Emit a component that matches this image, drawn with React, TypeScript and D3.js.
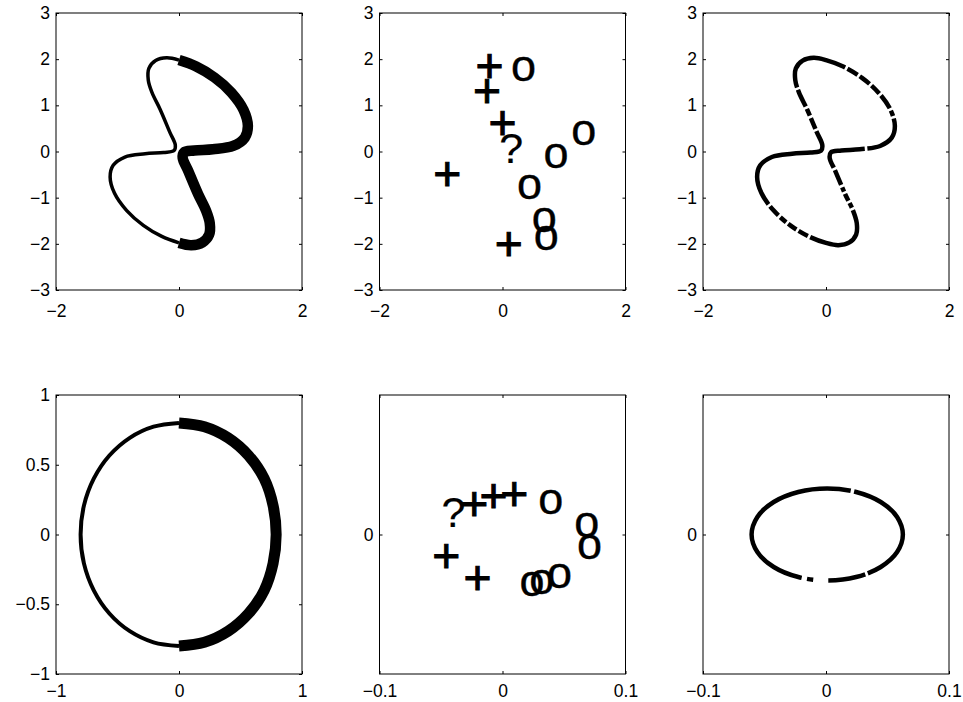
import * as d3 from 'd3';
import React, { useRef, useEffect } from 'react';

const W = 963;
const H = 702;
const FONT = '"Liberation Sans", Arial, Helvetica, sans-serif';

// top row: the loop, split in the thin half and the thick half
const thinX = [0.00, -0.20, -0.38, -0.49, -0.50, -0.44, -0.31, -0.15, -0.06, -0.08, -0.25, -0.55, -0.88, -1.07, -1.12, -1.05, -0.85, -0.58, -0.28, 0.00];
const thinY = [1.98, 2.03, 1.97, 1.80, 1.55, 1.28, 0.92, 0.42, 0.14, 0.02, -0.02, -0.05, -0.12, -0.30, -0.55, -0.90, -1.28, -1.60, -1.84, -1.98];
const thickX = [0.00, 0.20, 0.38, 0.49, 0.50, 0.44, 0.31, 0.15, 0.06, 0.08, 0.25, 0.55, 0.88, 1.07, 1.12, 1.05, 0.85, 0.58, 0.28, 0.00];
const thickY = [-1.98, -2.03, -1.97, -1.80, -1.55, -1.28, -0.92, -0.42, -0.14, -0.02, 0.02, 0.05, 0.12, 0.30, 0.55, 0.90, 1.28, 1.60, 1.84, 1.98];
// where the dotted loop (top right) has holes, as fraction of its length
const loopGaps = [0.092, 0.127, 0.144, 0.167, 0.384, 0.409, 0.426, 0.447, 0.469, 0.601, 0.614, 0.631, 0.643, 0.674, 0.763, 0.846, 0.860, 0.890, 0.913, 0.938, 0.962];

// top middle markers
const plusTopX = [-0.21, -0.25, 0.0, -0.9, 0.10];
const plusTopY = [1.87, 1.33, 0.63, -0.47, -1.98];
const circTopX = [0.34, 1.32, 0.87, 0.44, 0.68, 0.71];
const circTopY = [1.78, 0.41, -0.09, -0.77, -1.48, -1.88];
const queryTop = [0.14, 0.09];

// bottom left ring
const ringThinX = [0, -0.207, -0.4, -0.566, -0.693, -0.773, -0.8, -0.773, -0.693, -0.566, -0.4, -0.207, 0];
const ringThinY = [0.8, 0.773, 0.693, 0.566, 0.4, 0.207, 0, -0.207, -0.4, -0.566, -0.693, -0.773, -0.8];
const ringThickX = [0, 0.207, 0.4, 0.566, 0.693, 0.765, 0.79, 0.765, 0.693, 0.566, 0.4, 0.207, 0];
const ringThickY = [-0.8, -0.773, -0.693, -0.566, -0.4, -0.207, 0, 0.207, 0.4, 0.566, 0.693, 0.773, 0.8];

// bottom middle markers
const plusBotX = [-0.023, -0.0073, 0.0095, -0.0458, -0.0203];
const plusBotY = [0.0227, 0.0282, 0.0294, -0.0148, -0.0308];
const circBotX = [0.0393, 0.0686, 0.0707, 0.0463, 0.032, 0.0239];
const circBotY = [0.0234, 0.0067, -0.0089, -0.0299, -0.034, -0.0356];
const queryBot = [-0.0398, 0.0162];

// bottom right ellipse
const ovalX = [0.0625, 0.0578, 0.0445, 0.0245, 0.001, -0.0225, -0.0425, -0.0558, -0.0605, -0.0558, -0.0425, -0.0225, 0.001, 0.0245, 0.0445, 0.0578];
const ovalY = [0, 0.0126, 0.0233, 0.0305, 0.033, 0.0305, 0.0233, 0.0126, 0, -0.0126, -0.0233, -0.0305, -0.033, -0.0305, -0.0233, -0.0126];
const ovalGaps = [[0.180, 0.189], [0.683, 0.697], [0.713, 0.752], [0.849, 0.856]];

// ticks
const ticksTopX = [-2, 0, 2];
const ticksTopY = [-3, -2, -1, 0, 1, 2, 3];
const ticksRingX = [-1, 0, 1];
const ticksRingY = [-1, -0.5, 0, 0.5, 1];
const ticksSmallX = [-0.1, 0, 0.1];
const ticksSmallY = [0];

const colLeft = [56, 379.5, 703];
const panelW = 246;

const fmt = (v) => (v < 0 ? '\u2212' : '') + Math.abs(v);

function App() {
    const ref = useRef(null);

    useEffect(() => {
        draw();
    }, []);

    const draw = () => {
        const svg = d3.select(ref.current);
        svg.selectAll('*').remove();

        const axes = (x0, y0, h, xd, yd, xt, yt, pad) => {
            const x = d3.scaleLinear().domain(xd).range([x0, x0 + panelW]);
            const y = d3.scaleLinear().domain(yd).range([y0 + h, y0]);
            const g = svg.append('g');
            g.append('rect')
                .attr('x', x0).attr('y', y0)
                .attr('width', panelW).attr('height', h)
                .attr('fill', 'none').attr('stroke', '#000').attr('stroke-width', 1);

            const style = (sel) => {
                sel.select('.domain').remove();
                sel.selectAll('line').attr('stroke', '#000');
                sel.attr('font-family', FONT).attr('font-size', 17.5);
                sel.selectAll('text').attr('fill', '#000');
            };
            g.append('g').attr('transform', `translate(0,${y0 + h})`)
                .call(d3.axisBottom(x).tickValues(xt).tickSize(-3).tickPadding(pad).tickFormat(fmt))
                .call(style);
            g.append('g').attr('transform', `translate(0,${y0})`)
                .call(d3.axisTop(x).tickValues(xt).tickSize(-3).tickFormat(() => ''))
                .call(style);
            g.append('g').attr('transform', `translate(${x0},0)`)
                .call(d3.axisLeft(y).tickValues(yt).tickSize(-3).tickPadding(6).tickFormat(fmt))
                .call(style);
            g.append('g').attr('transform', `translate(${x0 + panelW},0)`)
                .call(d3.axisRight(y).tickValues(yt).tickSize(-3).tickFormat(() => ''))
                .call(style);
            return { x, y, g };
        };

        const linePath = (a, xs, ys, curve) => d3.line()
            .x((i) => a.x(xs[i]))
            .y((i) => a.y(ys[i]))
            .curve(curve)(d3.range(xs.length));

        // closed curve whose path begins at the first point
        const closedPath = (a, xs, ys) => {
            const n = xs.length;
            const idx = [n - 1, ...d3.range(n - 1)];
            return d3.line()
                .x((i) => a.x(xs[i]))
                .y((i) => a.y(ys[i]))
                .curve(d3.curveCatmullRomClosed)(idx);
        };

        const dashed = (path, gaps) => {
            const L = path.node().getTotalLength();
            const arr = [];
            let pos = 0;
            gaps.forEach(([s, e]) => {
                arr.push(s * L - pos, (e - s) * L);
                pos = e * L;
            });
            arr.push(L - pos + 2, 0);
            path.attr('stroke-dasharray', arr.join(','));
        };

        const markers = (a, xs, ys, glyph, size, dy, bold) => {
            a.g.selectAll(null)
                .data(d3.range(xs.length))
                .join('text')
                .attr('x', (i) => a.x(xs[i]))
                .attr('y', (i) => a.y(ys[i]))
                .attr('dy', dy + 'em')
                .attr('text-anchor', 'middle')
                .attr('font-family', FONT)
                .attr('font-size', size)
                .attr('fill', '#000')
                .attr('stroke', '#000')
                .attr('stroke-width', bold)
                .text(glyph);
        };

        // ---- top row ----
        const topY0 = 13, topH = 277;
        const a1 = axes(colLeft[0], topY0, topH, [-2, 2], [-3, 3], ticksTopX, ticksTopY, 14.3);
        a1.g.append('path').attr('d', linePath(a1, thinX, thinY, d3.curveCatmullRom))
            .attr('fill', 'none').attr('stroke', '#000').attr('stroke-width', 3.5)
            .attr('stroke-linejoin', 'round');
        a1.g.append('path').attr('d', linePath(a1, thickX, thickY, d3.curveCatmullRom))
            .attr('fill', 'none').attr('stroke', '#000').attr('stroke-width', 10.5)
            .attr('stroke-linejoin', 'round').attr('stroke-linecap', 'butt');

        const a2 = axes(colLeft[1], topY0, topH, [-2, 2], [-3, 3], ticksTopX, ticksTopY, 14.3);
        markers(a2, plusTopX, plusTopY, '+', 48, 0.35, 1);
        markers(a2, circTopX, circTopY, 'o', 45, 0.27, 0.4);
        markers(a2, [queryTop[0]], [queryTop[1]], '?', 43, 0.36, 0.2);

        const a3 = axes(colLeft[2], topY0, topH, [-2, 2], [-3, 3], ticksTopX, ticksTopY, 14.3);
        const loopX = thinX.concat(thickX.slice(1, -1));
        const loopY = thinY.concat(thickY.slice(1, -1));
        const p3 = a3.g.append('path').attr('d', closedPath(a3, loopX, loopY))
            .attr('fill', 'none').attr('stroke', '#000').attr('stroke-width', 4.5)
            .attr('stroke-linejoin', 'round');
        const L3 = p3.node().getTotalLength();
        dashed(p3, loopGaps.map((c) => [c - 1.3 / L3, c + 1.3 / L3]));

        // ---- bottom row ----
        const botY0 = 395, botH = 279;
        const a4 = axes(colLeft[0], botY0, botH, [-1, 1], [-1, 1], ticksRingX, ticksRingY, 10.5);
        a4.g.append('path').attr('d', linePath(a4, ringThinX, ringThinY, d3.curveCatmullRom))
            .attr('fill', 'none').attr('stroke', '#000').attr('stroke-width', 4);
        a4.g.append('path').attr('d', linePath(a4, ringThickX, ringThickY, d3.curveCatmullRom))
            .attr('fill', 'none').attr('stroke', '#000').attr('stroke-width', 11)
            .attr('stroke-linecap', 'butt');

        const a5 = axes(colLeft[1], botY0, botH, [-0.1, 0.1], [-0.1, 0.1], ticksSmallX, ticksSmallY, 10.5);
        markers(a5, plusBotX, plusBotY, '+', 48, 0.35, 1);
        markers(a5, circBotX, circBotY, 'o', 45, 0.27, 0.4);
        markers(a5, [queryBot[0]], [queryBot[1]], '?', 43, 0.36, 0.2);

        const a6 = axes(colLeft[2], botY0, botH, [-0.1, 0.1], [-0.1, 0.1], ticksSmallX, ticksSmallY, 10.5);
        const p6 = a6.g.append('path').attr('d', closedPath(a6, ovalX, ovalY))
            .attr('fill', 'none').attr('stroke', '#000').attr('stroke-width', 4.5);
        dashed(p6, ovalGaps);
    };

    return (
        <div style={{ position: 'absolute', left: 0, top: 0, background: '#fff' }}>
            <svg ref={ref} width={W} height={H} style={{ display: 'block' }}>
            </svg>
        </div>
    );
}

export default App;
